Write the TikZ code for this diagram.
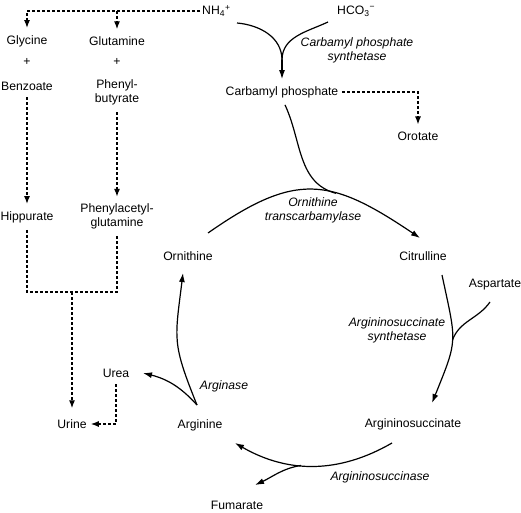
\documentclass[tikz,border=0pt]{standalone}
\usepackage{fontspec}
\setmainfont{Liberation Sans}
\usetikzlibrary{arrows.meta,positioning,calc}

\begin{document}
\begin{tikzpicture}[x=1pt, y=1pt,
  every node/.style={font=\fontsize{12.2}{13.5}\selectfont, align=center, inner xsep=4pt, inner ysep=7pt},
  enzyme/.style={font=\fontsize{12.2}{14}\selectfont\itshape, inner sep=1pt},
  rxn/.style={line width=1.2pt},
  rxnarrow/.style={rxn, -{Latex[length=9pt,width=6pt]}},
  dashline/.style={line width=1.3pt, dash pattern=on 3pt off 2pt},
  dasharrow/.style={dashline, -{Latex[length=8pt,width=6pt]}}]
  \useasboundingbox (0,0) rectangle (521,512);

  % substrates and scavengers
  \node[anchor=west, inner xsep=2pt] (nh) at (200,501) {NH\textsubscript{4}\textsuperscript{+}};
  \node[anchor=west, inner xsep=2pt] (hco) at (335,501) {HCO\textsubscript{3}\textsuperscript{−}};
  \node (gly) at (27,471) {Glycine};
  \node (glu) at (117,471) {Glutamine};
  \node (plusa) at (27,450) {+};
  \node (plusb) at (117,450) {+};
  \node (benz) at (27,426) {Benzoate};
  \node (pbut) at (117,419.5) {Phenyl-\\butyrate};
  \node (hip) at (27,295) {Hippurate};
  \node (pag) at (117,295.5) {Phenylacetyl-\\glutamine};
  \node (urine) at (72,88) {Urine};
  \node (urea) at (116,139) {Urea};
  \node (cp) at (282,420) {Carbamyl phosphate};
  \node (oro) at (418,376) {Orotate};

  % cycle intermediates
  \node (orn) at (188,256) {Ornithine};
  \node (cit) at (423,256) {Citrulline};
  \node (asp) at (495,227) {Aspartate};
  \node (asa) at (413,88) {Argininosuccinate};
  \node (arg) at (200,87) {Arginine};
  \node (fum) at (237,7) {Fumarate};

  % enzymes
  \node[enzyme] (cps) at (357,462) {Carbamyl phosphate\\synthetase};
  \node[enzyme] (otc) at (313,301.5) {Ornithine\\transcarbamylase};
  \node[enzyme] (ass) at (397,181.5) {Argininosuccinate\\synthetase};
  \node[enzyme] (asl) at (380,35) {Argininosuccinase};
  \node[enzyme] (arga) at (224,126) {Arginase};

  % alternative nitrogen disposal
  \draw[dasharrow] (nh.west) -| (gly.north);
  \draw[dasharrow] (nh.west -| glu.north) -- (glu.north);
  \draw[dasharrow] (benz.south) -- (hip.north);
  \draw[dasharrow] (pbut.south) -- (pag.north);
  \coordinate (excr) at (72,220);
  \draw[dashline] (hip.south) |- (excr) -| (pag.south);
  \draw[dasharrow] (excr) -- ([yshift=4pt]urine.north);
  \draw[dasharrow] (urea.south) |- (urine.east);
  \draw[dasharrow] (cp.east) -| (oro.north);

  % carbamyl phosphate
  \coordinate (nhout) at (237,489);
  \coordinate (hcoout) at (328,490);
  \coordinate (cpsjoin) at (282,452);
  \draw[rxn] (nhout) to[out=-5,in=90] (cpsjoin);
  \draw[rxn] (hcoout) to[out=205,in=90] (cpsjoin);
  \draw[rxnarrow] (cpsjoin) -- (cp.north);

  % the cycle
  \draw[rxnarrow] ($(orn)+(20,23)$) to[out=35,in=146,looseness=1.3] coordinate[pos=0.62] (otcjoin) ($(cit)+(-3,18)$);
  \draw[rxn] ($(cp.south)+(3,0)$) to[out=-65,in=165] (otcjoin);
  \draw[rxnarrow] ($(cit)+(19,-19)$) to[out=-78,in=68,looseness=1.4] coordinate[pos=0.5] (assjoin) ($(asa)+(19,21)$);
  \draw[rxn] ($(asp)+(-5,-17)$) to[out=-125,in=70] (assjoin);
  \draw[rxnarrow] ($(asa)+(-21,-19)$) to[out=-150,in=-30] coordinate[pos=0.58] (asljoin) ($(arg)+(35,-18)$);
  \draw[rxnarrow] (asljoin) to[out=190,in=25] ($(fum)+(18,20)$);
  \coordinate (argout) at ($(arg)+(-3,20)$);
  \draw[rxnarrow] (argout) to[out=112,in=-97,looseness=1.3] ($(orn)+(-5,-17)$);
  \draw[rxnarrow] (argout) to[out=132,in=-14] ($(urea)+(27,0)$);
\end{tikzpicture}
\end{document}
